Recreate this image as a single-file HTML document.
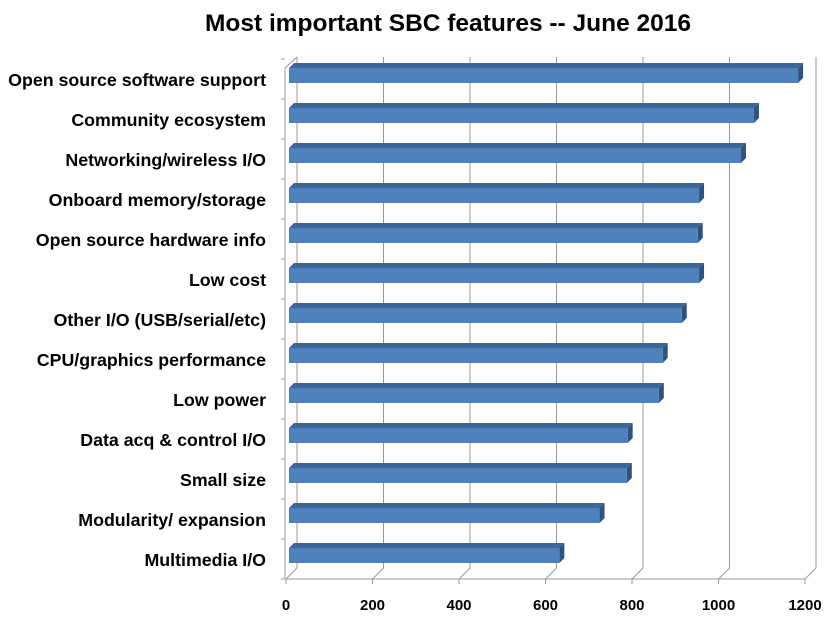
<!DOCTYPE html>
<html><head><meta charset="utf-8"><style>
html,body{margin:0;padding:0;background:#fff;}
svg{display:block;font-family:"Liberation Sans",sans-serif;}
</style></head><body>
<svg id="chart" width="833" height="618" viewBox="0 0 833 618">
<text x="448" y="31" text-anchor="middle" font-size="24.5" font-weight="bold" fill="#000">Most important SBC features -- June 2016</text>
<g id="grid"></g>
<g id="bars"></g>
<g id="labels"></g>
<g id="xticks"></g>
</svg>
<script>
const categories = ["Open source software support","Community ecosystem","Networking/wireless I/O","Onboard memory/storage","Open source hardware info","Low cost","Other I/O (USB/serial/etc)","CPU/graphics performance","Low power","Data acq & control I/O","Small size","Modularity/ expansion","Multimedia I/O"];
const values = [1184,1082,1052,955,952,955,915,871,862,790,788,725,632];
const tickValues = [0,200,400,600,800,1000,1200];
const tickLabels = ["0","200","400","600","800","1000","1200"];

const NS="http://www.w3.org/2000/svg";
const X0=286, XMAX=1200, X1=805, Y0=59, BAND=40, DX=11, DY=11;
const xs = v => X0 + (X1-X0)*v/XMAX;
const yBand = i => Y0 + i*BAND;
const BASE = Y0 + categories.length*BAND;
function mk(tag,attrs,parent){const e=document.createElementNS(NS,tag);for(const k in attrs)e.setAttribute(k,attrs[k]);parent.appendChild(e);return e;}
const grid=document.getElementById('grid'), bars=document.getElementById('bars'), labels=document.getElementById('labels'), xt=document.getElementById('xticks');
const gc="#999";
tickValues.forEach((t,i)=>{
  const x=xs(t);
  const g=mk('line',{x1:x+DX,y1:BASE-DY,x2:x+DX,y2:Y0-DY+9,stroke:gc,'stroke-width':1},grid);
  
  
  mk('line',{x1:x,y1:BASE,x2:x+DX,y2:BASE-DY,stroke:gc,'stroke-width':1},grid);
  mk('line',{x1:x,y1:BASE,x2:x,y2:BASE+5,stroke:gc,'stroke-width':1},grid);
  const tx=mk('text',{x:x,y:BASE+31,'text-anchor':'middle','font-size':15,'font-weight':'bold',fill:'#000'},xt);
  tx.textContent=tickLabels[i];
  
  
});
mk('line',{x1:X0,y1:BASE,x2:X1,y2:BASE,stroke:gc,'stroke-width':1},grid);
mk('line',{x1:X0-1,y1:BASE,x2:X0-1,y2:Y0+9,stroke:gc,'stroke-width':1},grid);
mk('line',{x1:X0-1,y1:Y0+9,x2:X0+DX,y2:Y0-DY+9,stroke:gc,'stroke-width':1},grid);
for(let i=0;i<=categories.length;i++){
  mk('line',{x1:X0-5,y1:yBand(i),x2:X0-1,y2:yBand(i),stroke:gc,'stroke-width':1},grid);
}
categories.forEach((c,i)=>{
  const yt=yBand(i)+9, h=15, d=5, xl=289, xr=xs(values[i]);
  const g=mk('g',{},bars);
  
  
  mk('polygon',{points:`${xl},${yt} ${xl+d},${yt-d} ${xr+d},${yt-d} ${xr},${yt}`,fill:'#3d6699'},g);
  mk('polygon',{points:`${xr},${yt} ${xr+d},${yt-d} ${xr+d},${yt+h-d} ${xr},${yt+h}`,fill:'#2f5280'},g);
  mk('rect',{x:xl,y:yt,width:xr-xl,height:h,fill:'#4f81bd'},g);
  const t=mk('text',{x:266,y:yBand(i)+27,'text-anchor':'end','font-size':17.8,'font-weight':'bold',fill:'#000'},labels);
  t.textContent=c;
  
  
});
</script>
</body></html>
